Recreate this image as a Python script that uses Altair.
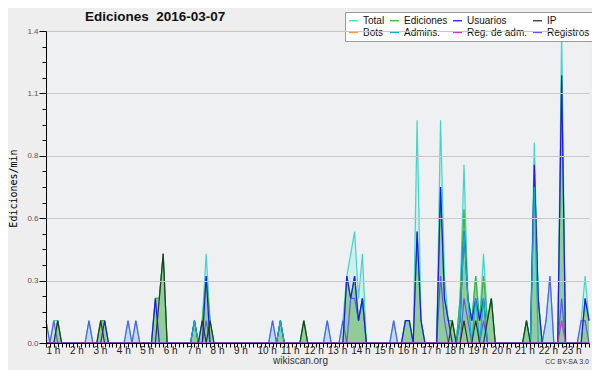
import altair as alt
import pandas as pd

# ---- data (bins of 10 minutes, edits per minute) ----
N_BINS = 140
SERIES = ["Total", "Ediciones", "Usuarios", "IP", "Bots", "Admins.", "Reg. de adm.", "Registros"]
COLORS = ["#3fd6c9", "#3cb43c", "#1a1aee", "#233a23", "#ff9a30", "#12acd6", "#cc33cc", "#5a5af0"]

TOTAL = {0: 0.1, 2: 0.1, 3: 0.1, 11: 0.1, 14: 0.1, 15: 0.1, 21: 0.1, 23: 0.1, 28: 0.2, 29: 0.2,
         30: 0.4, 38: 0.1, 40: 0.1, 41: 0.4, 42: 0.1, 58: 0.1, 60: 0.1, 66: 0.1, 72: 0.1, 76: 0.1,
         77: 0.3, 78: 0.4, 79: 0.5, 80: 0.2, 81: 0.4, 89: 0.1, 92: 0.1, 93: 0.1, 95: 1.0,
         96: 0.1, 101: 1.0, 102: 0.3, 103: 0.1, 104: 0.1, 106: 0.2, 107: 0.8, 108: 0.2, 109: 0.1,
         110: 0.3, 111: 0.1, 112: 0.4, 113: 0.1, 114: 0.2, 123: 0.1, 125: 0.9, 126: 0.2, 128: 0.1,
         129: 0.3, 132: 1.4, 137: 0.1, 138: 0.3, 139: 0.1}
EDICIONES = {3: 0.1, 14: 0.1, 15: 0.1, 28: 0.2, 29: 0.2, 30: 0.4, 38: 0.1, 40: 0.1, 41: 0.3, 42: 0.1,
             60: 0.1, 66: 0.1, 77: 0.3, 78: 0.2, 79: 0.3, 80: 0.1, 81: 0.2, 92: 0.1, 93: 0.1, 95: 0.5,
             96: 0.1, 101: 0.7, 102: 0.2, 103: 0.1, 104: 0.1, 106: 0.2, 107: 0.6, 108: 0.2, 109: 0.1,
             110: 0.3, 111: 0.1, 112: 0.3, 113: 0.1, 114: 0.2, 123: 0.1, 125: 0.8, 126: 0.2, 132: 1.2,
             138: 0.2, 139: 0.1}
USUARIOS = {15: 0.1, 28: 0.2, 38: 0.1, 41: 0.3, 60: 0.1, 77: 0.3, 78: 0.2, 79: 0.3, 80: 0.1, 81: 0.2,
            92: 0.1, 93: 0.1, 95: 0.5, 96: 0.1, 101: 0.7, 102: 0.2, 103: 0.1, 106: 0.1, 107: 0.5,
            108: 0.2, 109: 0.1, 110: 0.2, 111: 0.1, 112: 0.2, 125: 0.8, 126: 0.2, 132: 1.2, 138: 0.2,
            139: 0.1}
IP = {3: 0.1, 14: 0.1, 29: 0.2, 30: 0.4, 40: 0.1, 42: 0.1, 66: 0.1, 104: 0.1, 107: 0.1,
      110: 0.1, 113: 0.1, 114: 0.2, 123: 0.1}
BOTS = {}
ADMINS = {38: 0.1, 60: 0.1, 106: 0.1, 107: 0.5, 108: 0.2, 110: 0.2, 112: 0.2, 125: 0.7}
REG_ADM = {132: 0.1}
REGISTROS = {0: 0.1, 2: 0.1, 11: 0.1, 21: 0.1, 23: 0.1, 41: 0.1, 58: 0.1, 72: 0.1, 76: 0.1, 78: 0.2,
             79: 0.2, 80: 0.1, 81: 0.2, 89: 0.1, 101: 0.3, 102: 0.1, 107: 0.2, 108: 0.1, 112: 0.1,
             128: 0.1, 129: 0.3, 132: 0.2, 137: 0.1, 138: 0.1}

SERIES_DATA = {"Total": TOTAL, "Ediciones": EDICIONES, "Usuarios": USUARIOS, "IP": IP, "Bots": BOTS,
               "Admins.": ADMINS, "Reg. de adm.": REG_ADM, "Registros": REGISTROS}

rows = []
for name, d in SERIES_DATA.items():
    for i in range(N_BINS):
        rows.append({"bin": i, "serie": name, "v": d.get(i, 0.0)})
df = pd.DataFrame(rows)

W, H = 543, 312
FONT = "Liberation Sans"

y_ticks = [round(k * 0.07, 2) for k in range(21)]
major_test = "abs(datum.value/0.28 - round(datum.value/0.28)) < 0.01"

x_scale = alt.Scale(domain=[0, N_BINS - 1], nice=False, zero=False)
y_scale = alt.Scale(domain=[0, 1.4], nice=False)

x_axis = alt.Axis(
    values=list(range(N_BINS)),
    labelExpr="(datum.value % 6 == 0 && datum.value <= 132) ? (datum.value/6 + 1) + ' h' : ''",
    labelAlign="left", labelFont=FONT, labelFontSize=10, labelColor="#222",
    labelPadding=-2, labelOverlap=False, labelFlush=False,
    tickSize=4, tickColor="#000", domainColor="#000", grid=False,
    title="wikiscan.org", titleFont=FONT, titleFontSize=10, titleFontWeight="normal",
    titleColor="#333", titleX=254, titleY=17, titleBaseline="middle", titleAnchor="middle",
    zindex=1,
)
y_axis = alt.Axis(
    values=y_ticks,
    labelExpr=f"({major_test}) ? format(datum.value, '.1f') : ''",
    labelFont=FONT, labelFontSize=8, labelColor="#555", labelPadding=1,
    tickSize={"condition": {"test": major_test, "value": 7}, "value": 4},
    tickColor="#000", domainColor="#000",
    grid=True, gridColor="#c8c8c8",
    gridOpacity={"condition": {"test": major_test, "value": 1}, "value": 0},
    title="Ediciones/min", titleFont="DejaVu Sans Mono", titleFontSize=10, titleFontWeight="normal",
    titleColor="#000", titleX=-33, titleY=157, titleAngle=-90, titleBaseline="middle",
    titleAlign="center", zindex=1,
)

base = alt.Chart(df)
X = alt.X("bin:Q", scale=x_scale, axis=x_axis)
Y = alt.Y("v:Q", scale=y_scale, axis=y_axis)


def area(name, color, opacity):
    return base.transform_filter(alt.datum.serie == name).mark_area(
        color=color, opacity=opacity, interpolate="linear"
    ).encode(x=X, y=Y)


color_enc = alt.Color(
    "serie:N",
    scale=alt.Scale(domain=SERIES, range=COLORS),
    legend=alt.Legend(
        orient="none", legendX=299, legendY=-19, columns=4, direction="horizontal", title=None,
        symbolType="stroke", symbolStrokeWidth=1.3, symbolSize=81, labelFont=FONT, labelFontSize=10,
        labelColor="#111", labelOffset=4, fillColor="white", strokeColor="#999", padding=3,
        rowPadding=1, columnPadding=2,
    ),
)


def line(name, width=1.2):
    return base.transform_filter(alt.datum.serie == name).mark_line(
        strokeWidth=width, interpolate="linear"
    ).encode(x=X, y=Y, color=color_enc)


layers = [
    area("Total", "#cdeeee", 0.9),
    area("Registros", "#b7d7ef", 0.7),
    area("Ediciones", "#88c888", 0.85),
    line("Total"),
    line("Registros"),
    line("Ediciones"),
    line("Usuarios"),
    line("Admins."),
    line("IP"),
    line("Reg. de adm."),
]

credit = alt.Chart(pd.DataFrame({"t": ["CC BY-SA 3.0"]})).mark_text(
    font=FONT, fontSize=7, color="#333", align="right", baseline="middle"
).encode(text="t:N", x=alt.value(W), y=alt.value(331))

chart = alt.layer(*layers, credit).properties(
    width=W, height=H,
    title=alt.TitleParams("Ediciones\u00a0 2016-03-07", font=FONT, fontSize=13.5, fontWeight="bold",
                          color="#111", anchor="start", frame="group", dx=39, offset=-12),
    autosize=alt.AutoSizeParams(type="none"),
    padding={"left": 38, "top": 23, "right": 3, "bottom": 27},
    background="#eeeeee",
).configure_view(stroke=None, fill="#eef0f2")

chart.save("out.html", embed_options={"renderer": "svg", "actions": False})
